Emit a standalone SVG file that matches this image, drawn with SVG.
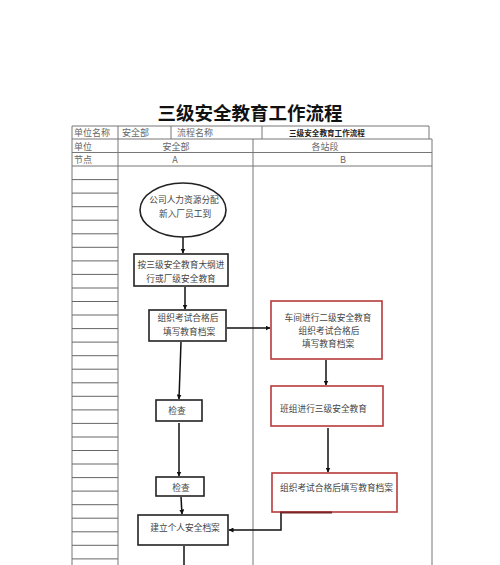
<svg xmlns="http://www.w3.org/2000/svg" width="500" height="565" viewBox="0 0 500 565">
<style>
text{font-family:"Noto Sans CJK SC","Noto Sans",sans-serif;}
.title{font-size:18.5px;font-weight:bold;fill:#111;text-anchor:middle;}
.tt{font-size:9px;fill:#666;}
.tc{font-size:9px;fill:#666;text-anchor:middle;}
.tb{font-size:7.6px;font-weight:bold;fill:#222;text-anchor:middle;}
.grid{stroke:#777;stroke-width:1;fill:none;}
.rows{stroke:#666;stroke-width:1;fill:none;}
.box{fill:#fff;stroke:#222;stroke-width:1.6;}
.rbox{fill:#fff;stroke:#b83a3a;stroke-width:1.6;}
.lbl{font-size:8.7px;fill:#444;text-anchor:middle;}
.con{stroke:#111;stroke-width:1.5;fill:none;}
</style>
<defs>
<marker id="ah" viewBox="0 0 10 10" refX="9" refY="5" markerWidth="5" markerHeight="5" orient="auto" markerUnits="userSpaceOnUse">
<path d="M0,0 L10,5 L0,10 z" fill="#111"/>
</marker>
</defs>
<rect width="500" height="565" fill="#fff"/>
<text class="title" x="250" y="120">三级安全教育工作流程</text>
<g id="table">
<path class="grid" d="M72,126H429V139M72,139H432M72,152.5H432M72,166H432M72,126V565M118,126V565M171,126V139M262,126V139M253,139V565M432,139V565"/>
<path class="rows" d="M72,179.6H118M72,193.1H118M72,206.7H118M72,220.2H118M72,233.8H118M72,247.3H118M72,260.9H118M72,274.4H118M72,288H118M72,301.5H118M72,315H118M72,328.6H118M72,342.1H118M72,355.7H118M72,369.2H118M72,382.8H118M72,396.3H118M72,409.9H118M72,423.4H118M72,437H118M72,450.5H118M72,464H118M72,477.6H118M72,491.1H118M72,504.7H118M72,518.2H118M72,531.8H118M72,545.3H118M72,558.9H118"/>
<text class="tt" x="74" y="136">单位名称</text>
<text class="tt" x="122" y="136">安全部</text>
<text class="tt" x="177" y="136">流程名称</text>
<text class="tb" x="327" y="135.5">三级安全教育工作流程</text>
<text class="tt" x="74" y="149.5">单位</text>
<text class="tc" x="176" y="149.5">安全部</text>
<text class="tc" x="325" y="149.5">各站段</text>
<text class="tt" x="74" y="162.5">节点</text>
<text class="tc" x="175" y="162.5">A</text>
<text class="tc" x="343" y="162.5">B</text>
</g>
<g id="connectors">
<line class="con" x1="183" y1="237" x2="183" y2="253" marker-end="url(#ah)"/>
<line class="con" x1="185" y1="287" x2="185" y2="309" marker-end="url(#ah)"/>
<line class="con" x1="227" y1="328" x2="270" y2="328" marker-end="url(#ah)"/>
<line class="con" x1="181" y1="342" x2="179" y2="399" marker-end="url(#ah)"/>
<line class="con" x1="326" y1="360" x2="326" y2="385" marker-end="url(#ah)"/>
<line class="con" x1="179" y1="423" x2="179" y2="476" marker-end="url(#ah)"/>
<line class="con" x1="328" y1="428" x2="328" y2="472" marker-end="url(#ah)"/>
<line class="con" x1="181" y1="497" x2="182" y2="514" marker-end="url(#ah)"/>
<polyline class="con" points="281,513 281,530 229,530" marker-end="url(#ah)"/>
<line class="con" x1="184" y1="546" x2="184" y2="565"/>
</g>
<g id="n1">
<ellipse class="box" cx="183" cy="210" rx="43" ry="27"/>
<text class="lbl" x="184" y="203">公司人力资源分配</text>
<text class="lbl" x="185" y="216.5">新入厂员工到</text>
</g>
<g id="n2">
<rect class="box" x="134" y="254" width="94" height="32"/>
<text class="lbl" x="181" y="268">按三级安全教育大纲进</text>
<text class="lbl" x="181" y="282">行或厂级安全教育</text>
</g>
<g id="n3">
<rect class="box" x="149" y="310" width="77" height="31"/>
<text class="lbl" x="188" y="321">组织考试合格后</text>
<text class="lbl" x="189" y="335">填写教育档案</text>
</g>
<g id="n4">
<rect class="box" x="156" y="400" width="46" height="21"/>
<text class="lbl" x="177" y="414">检查</text>
</g>
<g id="n5">
<rect class="box" x="156" y="477" width="48" height="19"/>
<text class="lbl" x="181" y="490.5">检查</text>
</g>
<g id="n6">
<rect class="box" x="138" y="515" width="90" height="30"/>
<text class="lbl" x="185" y="531">建立个人安全档案</text>
</g>
<g id="r1">
<rect class="rbox" x="271" y="301" width="111" height="58"/>
<text class="lbl" x="328" y="320.5">车间进行二级安全教育</text>
<text class="lbl" x="329" y="334">组织考试合格后</text>
<text class="lbl" x="328" y="346.5">填写教育档案</text>
</g>
<g id="r2">
<rect class="rbox" x="271" y="386" width="112" height="40"/>
<text class="lbl" x="323.5" y="412">班组进行三级安全教育</text>
</g>
<g id="r3">
<rect class="rbox" x="272" y="473" width="125" height="39"/>
<line x1="280" y1="512.5" x2="332" y2="512.5" stroke="#7a2525" stroke-width="2.2"/>
<text class="lbl" x="336.5" y="491">组织考试合格后填写教育档案</text>
</g>
</svg>
